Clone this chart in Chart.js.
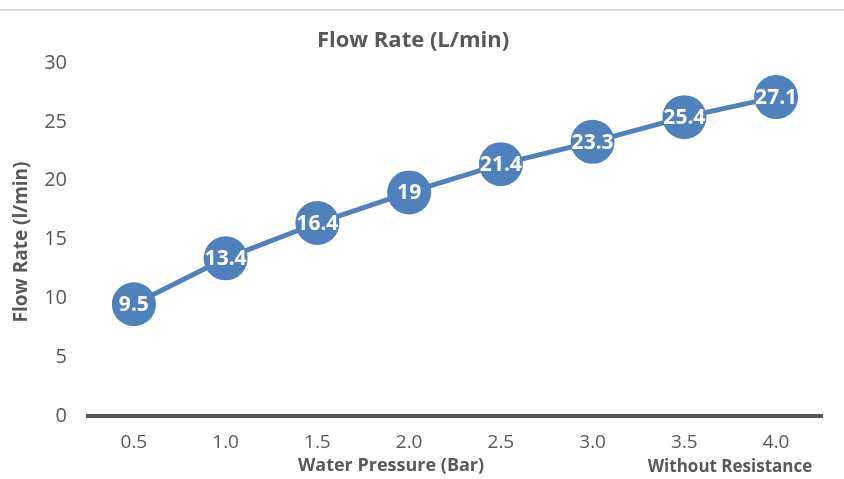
<!DOCTYPE html>
<html>
<head>
<meta charset="utf-8">
<script src="https://cdn.jsdelivr.net/npm/chart.js@4"></script>
<style>
html,body{margin:0;padding:0;background:#fff;}
#wrap{width:844px;height:479px;}
</style>
</head>
<body>
<div id="wrap"><canvas id="c" width="844" height="479"></canvas></div>
<script>
const categories = ["0.5","1.0","1.5","2.0","2.5","3.0","3.5","4.0"];
const flowRate = [9.5, 13.4, 16.4, 19, 21.4, 23.3, 25.4, 27.1];
const yTicks = [0, 5, 10, 15, 20, 25, 30];
const titleText = "Flow Rate (L/min)";
const xTitle = "Water Pressure (Bar)";
const xTitleExtra = "Without Resistance";
const yTitle = "Flow Rate (l/min)";

const FONT = "'Open Sans', 'Noto Sans', sans-serif";
const GREY = '#595959';
const BLUE = '#4f81bd';

const decor = {
  id: 'decor',
  beforeDraw(chart) {
    const ctx = chart.ctx;
    ctx.save();
    ctx.fillStyle = '#d6d6d6';
    ctx.fillRect(0, 9, 844, 2);
    ctx.restore();
  },
  afterDraw(chart) {
    const ctx = chart.ctx;
    ctx.save();
    ctx.fillStyle = GREY;
    ctx.textAlign = 'center';
    ctx.textBaseline = 'middle';
    ctx.font = "bold 22px " + FONT;
    ctx.fillText(titleText, 413, 41);
    ctx.font = "bold 18px " + FONT;
    ctx.fillText(xTitle, 391, 466);
    ctx.font = "bold 17px " + FONT;
    ctx.fillText(xTitleExtra, 730, 467);
    ctx.font = "bold 19px " + FONT;
    ctx.translate(22, 242);
    ctx.rotate(-Math.PI / 2);
    ctx.fillText(yTitle, 0, 0);
    ctx.restore();
  },
  afterDatasetsDraw(chart) {
    const ctx = chart.ctx;
    const meta = chart.getDatasetMeta(0);
    ctx.save();
    ctx.fillStyle = '#ffffff';
    ctx.textAlign = 'center';
    ctx.textBaseline = 'middle';
    ctx.font = "bold 21px " + FONT;
    meta.data.forEach((pt, i) => {
      ctx.fillText(String(flowRate[i]), pt.x, pt.y + 1);
    });
    ctx.restore();
  }
};

new Chart(document.getElementById('c'), {
  type: 'line',
  data: {
    labels: categories,
    datasets: [{
      data: flowRate,
      borderColor: BLUE,
      backgroundColor: BLUE,
      borderWidth: 5,
      pointRadius: 22,
      pointHoverRadius: 22,
      pointBackgroundColor: BLUE,
      pointBorderWidth: 0,
      tension: 0,
      clip: false
    }]
  },
  options: {
    responsive: false,
    animation: false,
    events: [],
    layout: { padding: { top: 63, right: 22, left: 0, bottom: 0 } },
    plugins: { legend: { display: false }, title: { display: false }, tooltip: { enabled: false } },
    scales: {
      x: {
        offset: true,
        grid: { display: false, drawTicks: false },
        border: { display: true, width: 4, color: GREY },
        ticks: { color: GREY, font: { family: FONT, size: 19 }, padding: 15, maxRotation: 0 },
        afterFit(s) { s.height = 63; }
      },
      y: {
        min: 0, max: 30,
        grid: { display: false, drawTicks: false },
        border: { display: false },
        afterBuildTicks(s) { s.ticks = yTicks.map(v => ({ value: v })); },
        ticks: { color: GREY, font: { family: FONT, size: 20 }, padding: 21 },
        afterFit(s) { s.width = 88; }
      }
    }
  },
  plugins: [decor]
});
</script>
</body>
</html>
